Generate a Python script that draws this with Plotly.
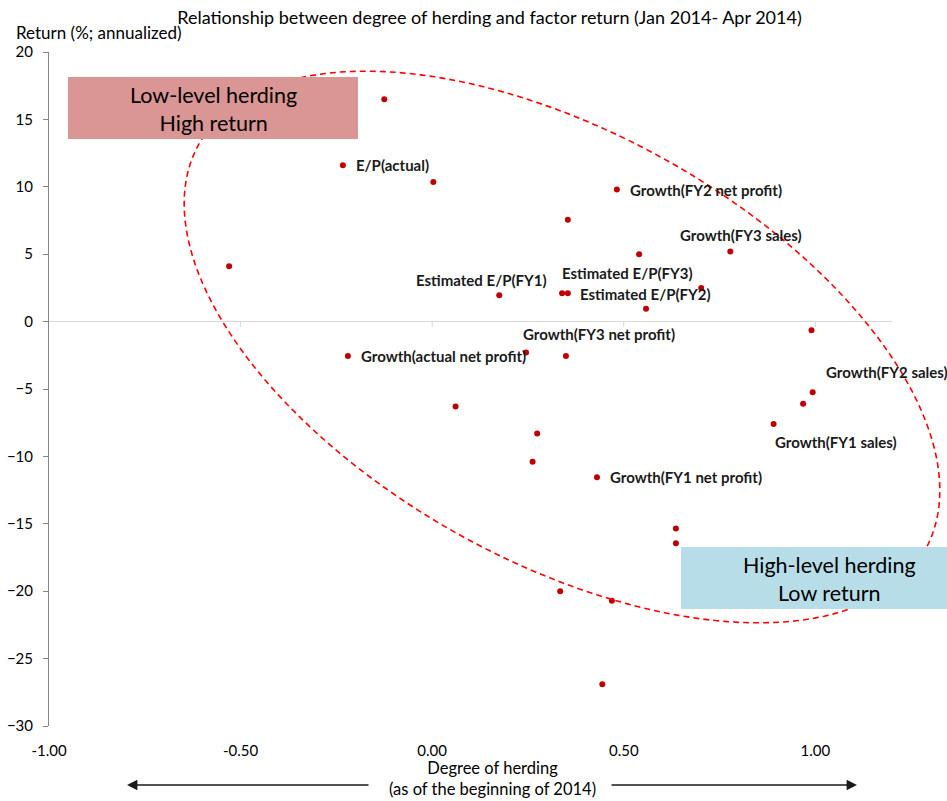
import math
import plotly.graph_objects as go

# Factor data: degree of herding (start of 2014) vs annualized return (Jan-Apr 2014)
herding = [-0.125, -0.233, 0.003, 0.482, 0.354, 0.540, 0.778, -0.530,
           0.175, 0.339, 0.354, 0.702, 0.558, 0.990, -0.220, 0.245,
           0.349, 0.061, 0.274, 0.262, 0.430, 0.891, 0.968, 0.993,
           0.636, 0.636, 0.334, 0.469, 0.444]
returns = [16.5, 11.6, 10.35, 9.8, 7.55, 5.0, 5.2, 4.1,
           1.95, 2.1, 2.1, 2.5, 0.95, -0.65, -2.55, -2.3,
           -2.55, -6.3, -8.3, -10.4, -11.55, -7.6, -6.1, -5.25,
           -15.35, -16.45, -20.0, -20.7, -26.9]
factor_names = ["", "E/P(actual)", "", "Growth(FY2 net profit)", "", "Estimated E/P(FY3)",
                "Growth(FY3 sales)", "", "Estimated E/P(FY1)", "", "Estimated E/P(FY2)",
                "", "", "", "Growth(actual net profit)", "", "Growth(FY3 net profit)",
                "", "", "", "Growth(FY1 net profit)", "Growth(FY1 sales)", "",
                "Growth(FY2 sales)", "", "", "", "", ""]

x_ticks = [-1.0, -0.5, 0.0, 0.5, 1.0]
x_tick_text = ["-1.00", "-0.50", "0.00", "0.50", "1.00"]
y_ticks = [20, 15, 10, 5, 0, -5, -10, -15, -20, -25, -30]

# label placement for each named factor: (xanchor, xshift px, yshift px)
label_place = {
    "E/P(actual)": ("left", 11, 0),
    "Growth(FY2 net profit)": ("left", 11, 0),
    "Growth(FY3 sales)": ("center", 11, 17),
    "Estimated E/P(FY1)": ("center", -18, 15),
    "Estimated E/P(FY3)": ("center", -12, -19),
    "Estimated E/P(FY2)": ("left", 10, -1),
    "Growth(FY3 net profit)": ("center", 33, 22),
    "Growth(actual net profit)": ("left", 11, 0),
    "Growth(FY1 net profit)": ("left", 11, 0),
    "Growth(FY1 sales)": ("left", -1, -18),
    "Growth(FY2 sales)": ("left", 11, 20),
}

W, H = 947, 801
L, R, T, B = 49, 892, 52, 726
FONT = "Lato, 'Open Sans', sans-serif"


def px(xp):
    return (xp - L) / (R - L)


def py(yp):
    return (B - yp) / (B - T)


fig = go.Figure()
fig.add_trace(go.Scatter(
    x=herding, y=returns, mode="markers",
    marker=dict(color="#C00000", size=6),
    hoverinfo="x+y", showlegend=False,
))

annotations = []
for xv, yv, name in zip(herding, returns, factor_names):
    if not name:
        continue
    anchor, dx, dy = label_place[name]
    annotations.append(dict(
        x=xv, y=yv, xref="x", yref="y", text=name, showarrow=False,
        xanchor=anchor, yanchor="middle", xshift=dx, yshift=dy,
        font=dict(family=FONT, size=15, color="#1a1a1a", weight="bold"),
    ))

# dashed ellipse enclosing the cloud (pixel geometry -> paper coords)
cx, cy, a_ax, b_ax, ang = 562, 347, 416, 214, math.radians(29.2)
pts = []
for i in range(181):
    t = 2 * math.pi * i / 180
    ex = cx + a_ax * math.cos(t) * math.cos(ang) - b_ax * math.sin(t) * math.sin(ang)
    ey = cy + a_ax * math.cos(t) * math.sin(ang) + b_ax * math.sin(t) * math.cos(ang)
    pts.append((px(ex), py(ey)))
path = "M " + " L ".join(f"{x:.5f},{y:.5f}" for x, y in pts) + " Z"

shapes = [
    dict(type="path", path=path, xref="paper", yref="paper",
         line=dict(color="#FF0000", width=1.6, dash="6px,4px"), layer="above"),
    dict(type="rect", xref="paper", yref="paper",
         x0=px(68), x1=px(358), y0=py(139), y1=py(77),
         fillcolor="#D99694", line=dict(width=0), layer="above"),
    dict(type="rect", xref="paper", yref="paper",
         x0=px(681), x1=px(947), y0=py(609), y1=py(547),
         fillcolor="#B7DDE8", line=dict(width=0), layer="above"),
]
# small tick marks hanging from the zero line
for xt in x_ticks[1:]:
    shapes.append(dict(type="line", xref="x", yref="paper", x0=xt, x1=xt,
                       y0=py(321), y1=py(327), line=dict(color="#D9D9D9", width=1)))

annotations += [
    dict(x=px(213), y=py(109), xref="paper", yref="paper", showarrow=False,
         xanchor="center", yanchor="middle",
         text="Low-level herding<br>High return", align="center",
         font=dict(family=FONT, size=21.5, color="#000")),
    dict(x=px(829), y=py(579), xref="paper", yref="paper", showarrow=False,
         xanchor="center", yanchor="middle",
         text="High-level herding<br>Low return", align="center",
         font=dict(family=FONT, size=21.5, color="#000")),
    dict(x=px(14), y=py(33), xref="paper", yref="paper", showarrow=False,
         text="Return (%; annualized)", xanchor="left", yanchor="middle",
         font=dict(family=FONT, size=17, color="#000")),
    dict(x=px(492), y=py(779), xref="paper", yref="paper", showarrow=False,
         xanchor="center", yanchor="middle",
         text="Degree of herding<br>(as of the beginning of 2014)", align="center",
         font=dict(family=FONT, size=16.5, color="#000")),
    # double-headed arrow under the x axis
    dict(x=px(127), y=py(785), xref="paper", yref="paper", text="",
         showarrow=True, axref="pixel", ayref="pixel", ax=243, ay=0,
         arrowhead=2, arrowsize=1.3, arrowwidth=1.6, arrowcolor="#1a1a1a"),
    dict(x=px(857), y=py(785), xref="paper", yref="paper", text="",
         showarrow=True, axref="pixel", ayref="pixel", ax=-247, ay=0,
         arrowhead=2, arrowsize=1.3, arrowwidth=1.6, arrowcolor="#1a1a1a"),
]

fig.update_layout(
    width=W, height=H,
    margin=dict(l=L, r=W - R, t=T, b=H - B, pad=0, autoexpand=False),
    paper_bgcolor="white", plot_bgcolor="white",
    title=dict(text="Relationship between degree of herding and factor return (Jan 2014- Apr 2014)",
               x=489.5 / W, xref="container", xanchor="center",
               y=1 - 18 / H, yref="container", yanchor="middle",
               font=dict(family=FONT, size=18, color="#000")),
    xaxis=dict(range=[-1.0, 1.2], tickvals=x_ticks, ticktext=x_tick_text,
               showgrid=False, zeroline=False, showline=False, ticks="",
               ticklabelstandoff=14, automargin=False,
               tickfont=dict(family=FONT, size=15, color="#000")),
    yaxis=dict(range=[-30, 20], tickvals=y_ticks, showgrid=False,
               zeroline=True, zerolinecolor="#D9D9D9", zerolinewidth=1,
               showline=True, linecolor="#868686", linewidth=1,
               ticks="outside", ticklen=5, tickcolor="#868686",
               ticklabelstandoff=7, automargin=False,
               tickfont=dict(family=FONT, size=15, color="#000")),
    shapes=shapes, annotations=annotations,
)

fig.write_html("out.html")
